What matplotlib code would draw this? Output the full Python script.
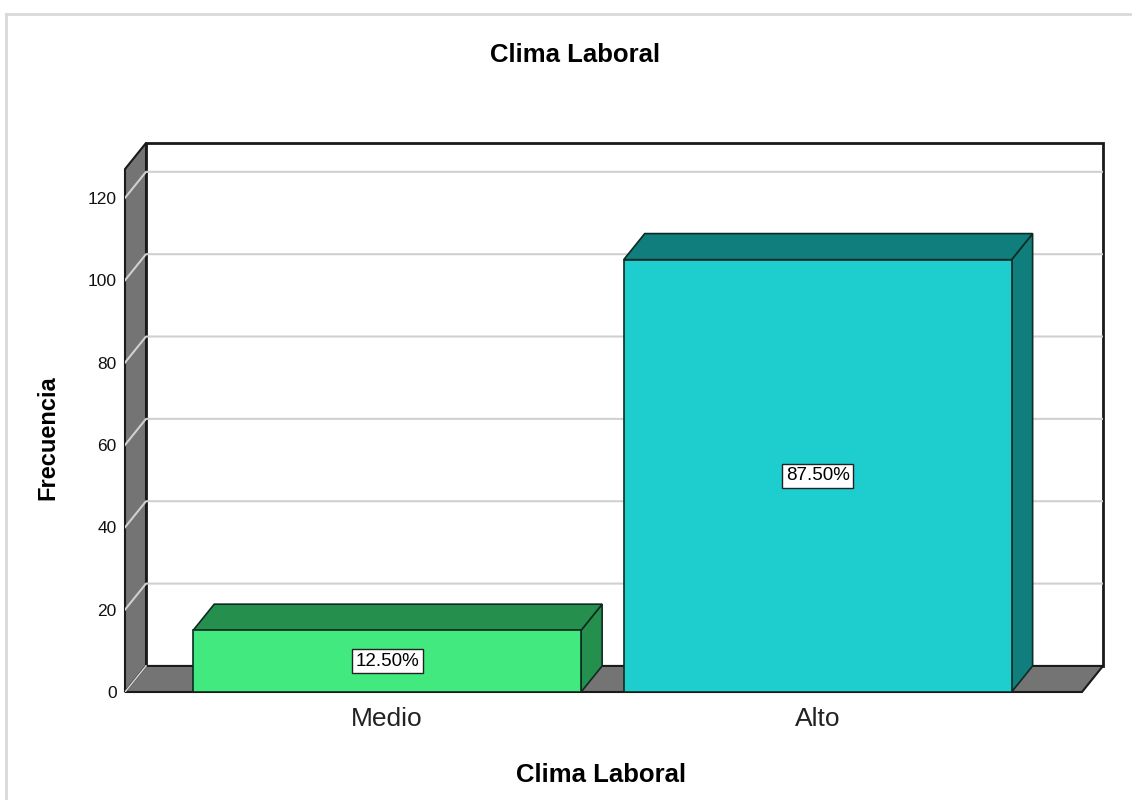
import matplotlib
matplotlib.use('Agg')
import matplotlib.pyplot as plt
from matplotlib.patches import Polygon, Rectangle
from matplotlib.lines import Line2D

plt.rcParams['font.family'] = ['Liberation Sans', 'DejaVu Sans']

categorias = ['Medio', 'Alto']
frecuencias = [15, 105]
porcentajes = ['12.50%', '87.50%']
color_frente = ['#42e97f', '#1ecdcd']
color_lado = ['#25904d', '#117e7e']
yticks = [0, 20, 40, 60, 80, 100, 120]

fig = plt.figure(figsize=(11.32, 8), dpi=100)
ax = fig.add_axes([125/1132, 108/800, 978/1132, 549/800])

# 3D box: front floor extent, depth offset (data units)
x0, x1 = -0.609, 1.614
dx, dy = 0.0488, 6.33
ytop = 127
w = 0.901
gris = '#747474'

ax.set_xlim(x0, x1 + dx)
ax.set_ylim(0, ytop + dy)

# back wall, left wall, floor
ax.add_patch(Rectangle((x0 + dx, dy), x1 - x0, ytop, fc='white', ec='#1a1a1a', lw=2,
                       zorder=1, clip_on=False))
ax.add_patch(Polygon([(x0, 0), (x0 + dx, dy), (x0 + dx, ytop + dy), (x0, ytop)],
                     closed=True, fc=gris, ec='#1a1a1a', lw=1.5, zorder=1, clip_on=False))
ax.add_patch(Polygon([(x0, 0), (x1, 0), (x1 + dx, dy), (x0 + dx, dy)],
                     closed=True, fc=gris, ec='#1a1a1a', lw=1.5, zorder=1, clip_on=False))

for v in yticks:
    if v == 0:
        ax.plot([x0, x0 + dx], [v, v + dy], color='#d0d0d0', lw=1.2, zorder=2)
    else:
        ax.plot([x0, x0 + dx, x1 + dx], [v, v + dy, v + dy], color='#d0d0d0', lw=1.5, zorder=2)

for i, h in enumerate(frecuencias):
    xl, xr = i - w / 2, i + w / 2
    ax.add_patch(Polygon([(xr, 0), (xr + dx, dy), (xr + dx, h + dy), (xr, h)],
                         closed=True, fc=color_lado[i], ec='#0d2b22', lw=1.2, zorder=3))
    ax.add_patch(Polygon([(xl, h), (xr, h), (xr + dx, h + dy), (xl + dx, h + dy)],
                         closed=True, fc=color_lado[i], ec='#0d2b22', lw=1.2, zorder=3))
    ax.add_patch(Rectangle((xl, 0), w, h, fc=color_frente[i], ec='#0d2b22', lw=1.2, zorder=4))
    ax.text(i, h / 2, porcentajes[i], ha='center', va='center', fontsize=13.5, zorder=5,
            bbox=dict(boxstyle='square,pad=0.2', fc='white', ec='#222222', lw=1))

ax.set_yticks(yticks)
ax.set_xticks([0, 1], categorias)
ax.tick_params(axis='y', length=0, pad=6, labelsize=12.5, labelcolor='#111111')
ax.tick_params(axis='x', length=0, pad=11, labelsize=19, labelcolor='#222222')
for s in ax.spines.values():
    s.set_visible(False)
ax.patch.set_visible(False)

fig.text(575.5/1132, 1 - 62/800, 'Clima Laboral', ha='center', va='baseline',
         fontsize=18.5, fontweight='bold')
fig.text(601.5/1132, 1 - 782/800, 'Clima Laboral', ha='center', va='baseline',
         fontsize=18.5, fontweight='bold')
fig.text(48/1132, 1 - 438/800, 'Frecuencia', ha='center', va='center', rotation=90,
         fontsize=17, fontweight='bold')

# light frame of the output window
fig.add_artist(Line2D([6/1132, 6/1132], [0, 1 - 14/800], color='#d9d9d9', lw=2))
fig.add_artist(Line2D([6/1132, 1], [1 - 14/800, 1 - 14/800], color='#d9d9d9', lw=2))

fig.savefig('out.png', dpi=100)
